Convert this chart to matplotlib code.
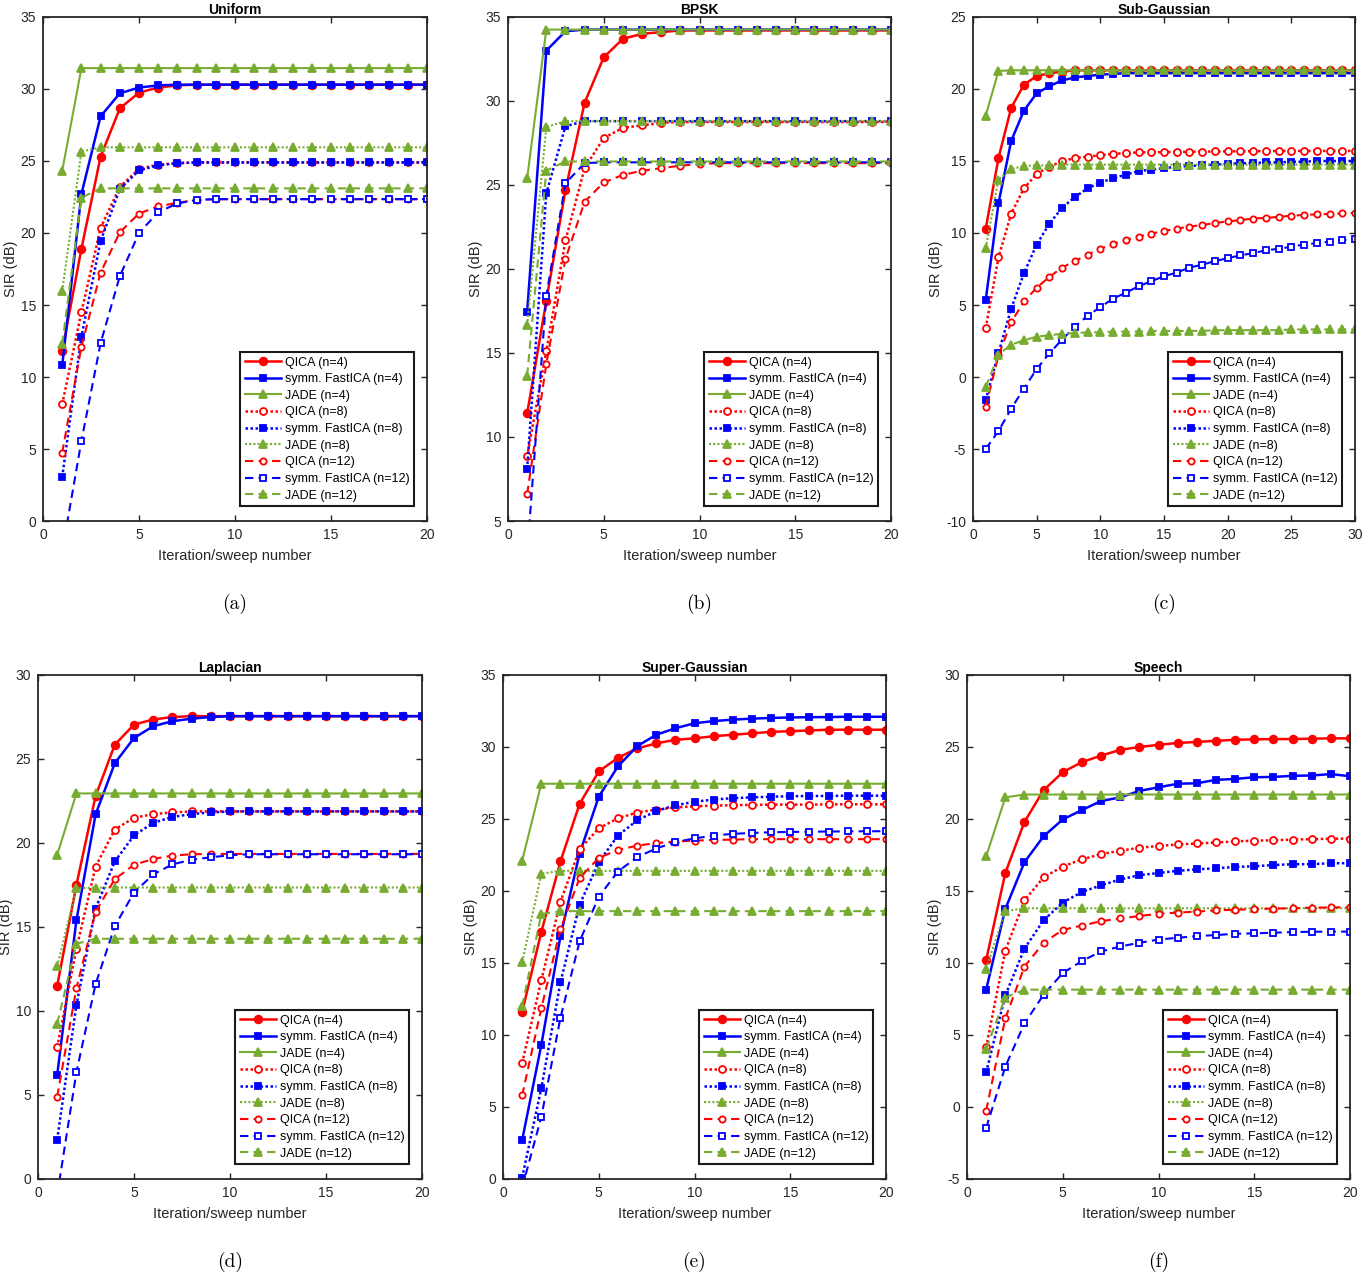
import numpy as np
import matplotlib
matplotlib.use("Agg")
import matplotlib.pyplot as plt

plt.rcParams['font.family'] = ['Liberation Sans', 'DejaVu Sans']
plt.rcParams['axes.unicode_minus'] = False

# ---- data (SIR in dB per iteration/sweep) ----
it20 = np.arange(1, 21)
it30 = np.arange(1, 31)

# (a) Uniform
uni_q4 = [11.8, 18.9, 25.3, 28.65, 29.75, 30.1, 30.25] + [30.3] * 13
uni_f4 = [10.8, 22.7, 28.1, 29.7, 30.1, 30.25, 30.3] + [30.3] * 13
uni_j4 = [24.3] + [31.45] * 19
uni_q8 = [8.1, 14.5, 20.35, 23.2, 24.45, 24.75, 24.85] + [24.9] * 13
uni_f8 = [3.05, 12.8, 19.45, 23.05, 24.35, 24.7, 24.85] + [24.9] * 13
uni_j8 = [15.95, 25.65] + [25.95] * 18
uni_q12 = [4.75, 12.1, 17.25, 20.05, 21.35, 21.85, 22.1, 22.3] + [22.35] * 12
uni_f12 = [-2.1, 5.55, 12.35, 17.0, 20.0, 21.45, 22.05, 22.3] + [22.35] * 12
uni_j12 = [12.3, 22.45] + [23.1] * 18

# (b) BPSK
bp_q4 = [11.4, 18.1, 24.7, 29.9, 32.6, 33.7, 34.0, 34.1] + [34.2] * 12
bp_f4 = [17.45, 33.0, 34.15] + [34.25] * 17
bp_j4 = [25.4] + [34.25] * 19
bp_q8 = [8.85, 15.1, 21.7, 26.0, 27.8, 28.4, 28.55, 28.7] + [28.75] * 12
bp_f8 = [8.1, 24.5, 28.5] + [28.8] * 17
bp_j8 = [16.65, 28.45] + [28.8] * 18
bp_q12 = [6.6, 14.35, 20.6, 24.0, 25.15, 25.6, 25.85, 26.0, 26.15, 26.25] + [26.3] * 10
bp_f12 = [3.0, 18.4, 25.1, 26.3] + [26.35] * 16
bp_j12 = [13.65, 25.85] + [26.4] * 18

# (c) Sub-Gaussian (30 sweeps)
sg_q4 = [10.3, 15.2, 18.7, 20.3, 20.9, 21.1, 21.2] + [21.3] * 23
sg_f4 = [5.35, 12.05, 16.4, 18.5, 19.7, 20.2, 20.6, 20.8, 20.9, 21.0, 21.05] + [21.1] * 19
sg_j4 = [18.15, 21.25] + [21.3] * 28
sg_q8 = [3.4, 8.3, 11.35, 13.1, 14.1, 14.6, 15.0, 15.2, 15.3, 15.4,
         15.5, 15.55, 15.6, 15.6, 15.62, 15.63, 15.64, 15.65, 15.66, 15.67,
         15.68, 15.68, 15.69, 15.69, 15.7, 15.7, 15.7, 15.7, 15.7, 15.7]
sg_f8 = [-1.6, 1.65, 4.75, 7.2, 9.2, 10.65, 11.75, 12.5, 13.1, 13.5,
         13.8, 14.05, 14.3, 14.4, 14.5, 14.6, 14.65, 14.7, 14.75, 14.8,
         14.85, 14.85, 14.9, 14.9, 14.95, 14.95, 15.0, 15.0, 15.0, 15.0]
sg_j8 = [8.95, 13.7, 14.45, 14.65, 14.7, 14.7] + [14.75] * 24
sg_q12 = [-2.05, 1.5, 3.8, 5.25, 6.2, 6.95, 7.6, 8.05, 8.5, 8.9,
          9.25, 9.5, 9.75, 9.95, 10.15, 10.3, 10.45, 10.55, 10.7, 10.8,
          10.9, 11.0, 11.05, 11.12, 11.2, 11.25, 11.3, 11.32, 11.36, 11.4]
sg_f12 = [-5.0, -3.75, -2.2, -0.8, 0.55, 1.65, 2.6, 3.5, 4.25, 4.85,
          5.45, 5.85, 6.3, 6.65, 7.0, 7.25, 7.6, 7.8, 8.05, 8.25,
          8.45, 8.6, 8.8, 8.9, 9.05, 9.2, 9.3, 9.4, 9.5, 9.6]
sg_j12 = [-0.7, 1.55, 2.25, 2.55, 2.8, 2.9, 3.0, 3.05, 3.1, 3.1,
          3.15, 3.15, 3.15, 3.2, 3.2, 3.2, 3.2, 3.2, 3.25, 3.25,
          3.25, 3.25, 3.25, 3.25, 3.3, 3.3, 3.3, 3.3, 3.3, 3.3]

# (d) Laplacian
lp_q4 = [11.5, 17.5, 22.8, 25.85, 27.05, 27.35, 27.5] + [27.55] * 13
lp_f4 = [6.2, 15.4, 21.7, 24.75, 26.25, 26.95, 27.25, 27.4, 27.5] + [27.55] * 11
lp_j4 = [19.3] + [22.95] * 19
lp_q8 = [7.85, 13.7, 18.6, 20.8, 21.5, 21.72, 21.82] + [21.88] * 13
lp_f8 = [2.35, 10.35, 16.1, 18.9, 20.45, 21.2, 21.55, 21.72, 21.82] + [21.88] * 11
lp_j8 = [12.65, 17.3] + [17.35] * 18
lp_q12 = [4.9, 11.35, 15.9, 17.85, 18.7, 19.05, 19.25, 19.33] + [19.35] * 12
lp_f12 = [-0.95, 6.35, 11.6, 15.05, 17.05, 18.13, 18.73, 19.0, 19.15, 19.27] + [19.33] * 10
lp_j12 = [9.25, 14.0] + [14.3] * 18

# (e) Super-Gaussian
sp_q4 = [11.6, 17.15, 22.05, 26.05, 28.3, 29.25, 29.9, 30.25, 30.5, 30.6,
         30.75, 30.85, 30.95, 31.05, 31.1, 31.15, 31.2, 31.2, 31.2, 31.2]
sp_f4 = [2.7, 9.3, 16.85, 22.6, 26.55, 28.65, 30.05, 30.85, 31.3, 31.65,
         31.8, 31.9, 31.97, 32.02, 32.05, 32.07, 32.08, 32.1, 32.1, 32.1]
sp_j4 = [22.1] + [27.45] * 19
sp_q8 = [8.05, 13.8, 19.25, 22.9, 24.35, 25.05, 25.45, 25.65, 25.8, 25.88,
         25.93, 25.96, 25.98, 26.0, 26.0, 26.0, 26.02, 26.02, 26.02, 26.02]
sp_f8 = [0.1, 6.3, 13.65, 19.05, 22.0, 23.85, 24.9, 25.55, 25.95, 26.2,
         26.35, 26.45, 26.5, 26.55, 26.58, 26.6, 26.6, 26.62, 26.62, 26.62]
sp_j8 = [15.05, 21.2] + [21.4] * 18
sp_q12 = [5.8, 11.85, 17.35, 20.9, 22.3, 22.85, 23.15, 23.33, 23.43, 23.5,
          23.54, 23.57] + [23.6] * 8
sp_f12 = [-0.6, 4.3, 11.2, 16.5, 19.6, 21.35, 22.35, 22.95, 23.4, 23.65,
          23.85, 23.97, 24.03, 24.08, 24.1, 24.12, 24.13, 24.14, 24.15, 24.15]
sp_j12 = [12.0, 18.4] + [18.6] * 18

# (f) Speech
sc_q4 = [10.2, 16.25, 19.8, 22.0, 23.25, 23.95, 24.4, 24.8, 25.0, 25.15,
         25.28, 25.35, 25.43, 25.5, 25.53, 25.55, 25.55, 25.58, 25.6, 25.6]
sc_f4 = [8.15, 13.75, 17.0, 18.8, 19.97, 20.62, 21.25, 21.5, 21.95, 22.2,
         22.45, 22.48, 22.72, 22.78, 22.9, 22.92, 23.0, 23.02, 23.12, 22.97]
sc_j4 = [17.4, 21.5] + [21.7] * 18
sc_q8 = [4.15, 10.85, 14.35, 15.95, 16.7, 17.2, 17.56, 17.8, 18.0, 18.13,
         18.23, 18.3, 18.37, 18.44, 18.5, 18.52, 18.57, 18.6, 18.63, 18.64]
sc_f8 = [2.4, 7.75, 11.0, 12.97, 14.2, 14.93, 15.4, 15.8, 16.1, 16.25,
         16.4, 16.5, 16.58, 16.67, 16.72, 16.8, 16.86, 16.86, 16.93, 16.93]
sc_j8 = [9.6, 13.6] + [13.8] * 18
sc_q12 = [-0.25, 6.15, 9.75, 11.4, 12.3, 12.6, 12.9, 13.1, 13.26, 13.42,
          13.5, 13.57, 13.66, 13.7, 13.74, 13.78, 13.8, 13.84, 13.86, 13.88]
sc_f12 = [-1.45, 2.8, 5.8, 7.8, 9.3, 10.14, 10.8, 11.15, 11.4, 11.63,
          11.75, 11.87, 11.94, 12.03, 12.06, 12.1, 12.15, 12.17, 12.18, 12.18]
sc_j12 = [4.05, 7.6] + [8.15] * 18

labels = ['QICA (n=4)', 'symm. FastICA (n=4)', 'JADE (n=4)',
          'QICA (n=8)', 'symm. FastICA (n=8)', 'JADE (n=8)',
          'QICA (n=12)', 'symm. FastICA (n=12)', 'JADE (n=12)']

RED = '#ff0000'
BLUE = '#0000ff'
GREEN = '#77ac30'

# style for the 9 series: color, linestyle, marker, markersize, facecolor, linewidth
styles = [
    (RED, '-', 'o', 5.5, RED, 1.8),
    (BLUE, '-', 's', 5.0, BLUE, 1.8),
    (GREEN, '-', '^', 6.0, GREEN, 1.5),
    (RED, (0, (1, 1)), 'o', 5.0, 'white', 1.8),
    (BLUE, (0, (1, 1)), 's', 4.5, BLUE, 1.8),
    (GREEN, (0, (1, 1)), '^', 5.5, GREEN, 1.5),
    (RED, (0, (4, 2.5)), 'o', 4.5, 'white', 1.5),
    (BLUE, (0, (4, 2.5)), 's', 4.0, 'white', 1.5),
    (GREEN, (0, (4, 2.5)), '^', 5.5, GREEN, 1.5),
]

panels = [
    ('Uniform', it20, [uni_q4, uni_f4, uni_j4, uni_q8, uni_f8, uni_j8, uni_q12, uni_f12, uni_j12], (0, 35), 20, '(a)'),
    ('BPSK', it20, [bp_q4, bp_f4, bp_j4, bp_q8, bp_f8, bp_j8, bp_q12, bp_f12, bp_j12], (5, 35), 20, '(b)'),
    ('Sub-Gaussian', it30, [sg_q4, sg_f4, sg_j4, sg_q8, sg_f8, sg_j8, sg_q12, sg_f12, sg_j12], (-10, 25), 30, '(c)'),
    ('Laplacian', it20, [lp_q4, lp_f4, lp_j4, lp_q8, lp_f8, lp_j8, lp_q12, lp_f12, lp_j12], (0, 30), 20, '(d)'),
    ('Super-Gaussian', it20, [sp_q4, sp_f4, sp_j4, sp_q8, sp_f8, sp_j8, sp_q12, sp_f12, sp_j12], (0, 35), 20, '(e)'),
    ('Speech', it20, [sc_q4, sc_f4, sc_j4, sc_q8, sc_f8, sc_j8, sc_q12, sc_f12, sc_j12], (-5, 30), 20, '(f)'),
]

W, H = 1362, 1275
# axes boxes in pixels: left, top, right, bottom
boxes = [(43, 17, 427, 521), (508, 17, 891, 521), (973, 17, 1355, 521),
         (38, 675, 422, 1179), (503, 675, 886, 1179), (967, 675, 1350, 1179)]

fig = plt.figure(figsize=(W / 100, H / 100), dpi=100)
AX_COL = '#262626'

for (title, xs, series, ylim, xmax, cap), (l, t, r, b) in zip(panels, boxes):
    ax = fig.add_axes([l / W, 1 - b / H, (r - l) / W, (b - t) / H])
    for ys, lab, (c, ls, mk, ms, fc, lw) in zip(series, labels, styles):
        ax.plot(xs, ys, color=c, linestyle=ls, marker=mk, markersize=ms,
                markerfacecolor=fc, markeredgecolor=c, markeredgewidth=1.3,
                linewidth=lw, label=lab)
    ax.set_xlim(0, xmax)
    ax.set_ylim(*ylim)
    ax.set_xticks(np.arange(0, xmax + 1, 5))
    ax.set_yticks(np.arange(ylim[0], ylim[1] + 1, 5))
    ax.tick_params(direction='in', top=True, right=True, length=4, width=1.0,
                   labelsize=10, colors=AX_COL, pad=5)
    for s in ax.spines.values():
        s.set_linewidth(1.3)
        s.set_color(AX_COL)
    ax.set_title(title, fontsize=10, fontweight='bold', pad=2)
    ax.set_xlabel('Iteration/sweep number', fontsize=10.5, labelpad=5, color=AX_COL)
    ax.set_ylabel('SIR (dB)', fontsize=10.5, labelpad=2, color=AX_COL)
    leg = ax.legend(loc='lower right', bbox_to_anchor=(0.965, 0.03), borderaxespad=0,
                    fontsize=9, handlelength=2.9, handletextpad=0.3,
                    labelspacing=0.37, borderpad=0.35, fancybox=False,
                    framealpha=1, edgecolor='#1a1a1a')
    leg.get_frame().set_linewidth(1.5)
    fig.text((l + r) / 2 / W, 1 - (b + 83) / H, cap, ha='center', va='center',
             fontsize=14, family=['cmr10', 'DejaVu Serif'])

fig.savefig('out.png', dpi=100)
